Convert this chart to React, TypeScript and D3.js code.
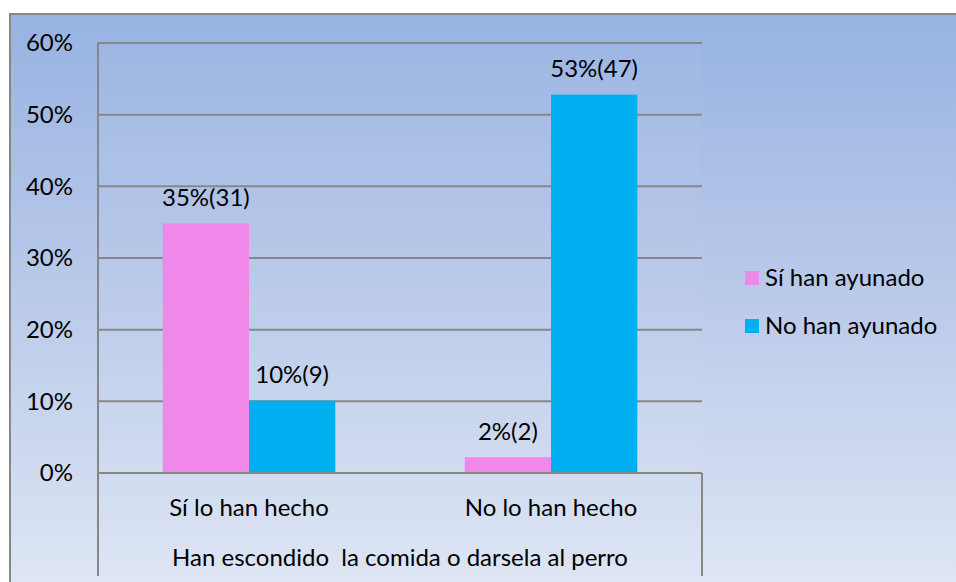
import React from "react";
import * as d3 from "d3";

const categories = ["Sí lo han hecho", "No lo han hecho"];
const groupLabel = "Han escondido  la comida o darsela al perro";
const seriesNames = ["Sí han ayunado", "No han ayunado"];
const seriesColors = ["#ef88e9", "#00b0f0"];
const siValues = [34.8, 2.2];
const noValues = [10.1, 52.8];
const siLabels = ["35%(31)", "2%(2)"];
const noLabels = ["10%(9)", "53%(47)"];
const yTicks = [0, 10, 20, 30, 40, 50, 60];

export default function App() {
  const width = 956;
  const height = 582;
  const left = 98;
  const right = 702;
  const top = 43;
  const bottom = 473;
  const font = "Lato, 'Open Sans', sans-serif";
  const fs = 24;
  const grid = "#878787";

  const x0 = d3.scaleBand().domain(categories).range([left, right]).paddingInner(0).paddingOuter(0);
  // inner band: two bars touching, gap on each side
  const x1 = d3
    .scaleBand()
    .domain(seriesNames)
    .range([0, x0.bandwidth()])
    .paddingOuter(0.75)
    .paddingInner(0);
  const y = d3.scaleLinear().domain([0, 60]).range([bottom, top]);

  const series = [
    { name: seriesNames[0], values: siValues, labels: siLabels, color: seriesColors[0] },
    { name: seriesNames[1], values: noValues, labels: noLabels, color: seriesColors[1] },
  ];

  return (
    <svg
      width={width}
      height={height}
      style={{ position: "absolute", left: 0, top: 0, display: "block" }}
      fontFamily={font}
    >
      <defs>
        <linearGradient id="bg" x1="0" y1="0" x2="0" y2="1">
          <stop offset="0%" stopColor="#97b3e2" />
          <stop offset="50%" stopColor="#bccbea" />
          <stop offset="100%" stopColor="#e1e8f5" />
        </linearGradient>
      </defs>
      <rect x={0} y={0} width={width} height={height} fill="#ffffff" />
      <rect x={10} y={14} width={width + 10} height={height + 10} fill="url(#bg)" stroke={grid} strokeWidth={2} />
      <rect x={left} y={top} width={right - left} height={bottom - top} fill="#ffffff" opacity={0.03} />

      {/* gridlines */}
      {yTicks.map((t) => (
        <line key={t} x1={left} x2={right} y1={y(t)} y2={y(t)} stroke={grid} strokeWidth={2} />
      ))}
      {yTicks.map((t) => (
        <text key={"l" + t} x={73} y={y(t)} dy="0.35em" textAnchor="end" fontSize={fs} fill="#000">
          {t}%
        </text>
      ))}

      {/* bars */}
      {series.map((s) =>
        categories.map((c, i) => {
          const bx = (x0(c) as number) + (x1(s.name) as number);
          const bw = x1.bandwidth();
          return (
            <g key={s.name + c}>
              <rect x={bx} y={y(s.values[i])} width={bw} height={y(0) - y(s.values[i])} fill={s.color} />
              <text
                x={bx + bw / 2}
                y={y(s.values[i]) - 26}
                dy="0.35em"
                textAnchor="middle"
                fontSize={fs}
                fill="#000"
              >
                {s.labels[i]}
              </text>
            </g>
          );
        })
      )}

      {/* axes */}
      <line x1={left} x2={left} y1={top} y2={576} stroke={grid} strokeWidth={2} />
      <line x1={left} x2={right} y1={bottom} y2={bottom} stroke={grid} strokeWidth={2} />
      <line x1={right} x2={right} y1={bottom} y2={576} stroke={grid} strokeWidth={2} />
      {categories.map((c) => (
        <text
          key={c}
          x={(x0(c) as number) + x0.bandwidth() / 2}
          y={508}
          dy="0.35em"
          textAnchor="middle"
          fontSize={fs}
          fill="#000"
        >
          {c}
        </text>
      ))}
      <text x={(left + right) / 2} y={558} dy="0.35em" textAnchor="middle" fontSize={fs} fill="#000" style={{ whiteSpace: "pre" }}>
        {groupLabel}
      </text>

      {/* legend */}
      {series.map((s, i) => (
        <g key={"lg" + s.name} transform={`translate(745, ${278 + i * 48})`}>
          <rect x={0} y={-7} width={14} height={14} fill={s.color} />
          <text x={20} y={0} dy="0.35em" fontSize={fs} fill="#000">
            {s.name}
          </text>
        </g>
      ))}
    </svg>
  );
}
